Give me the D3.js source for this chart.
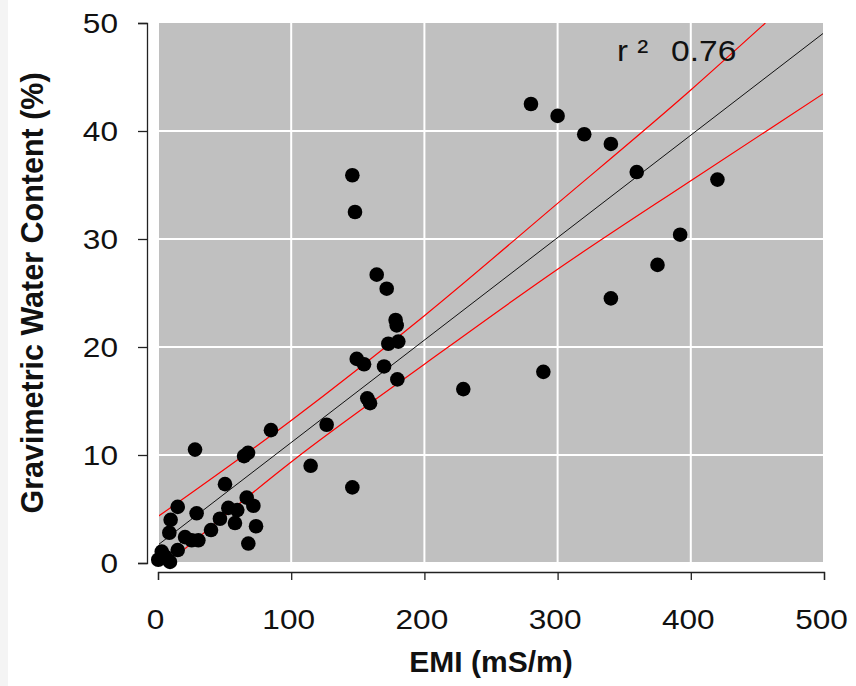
<!DOCTYPE html>
<meta charset="utf-8">
<title>EMI vs Gravimetric Water Content</title>
<style>
    body {
        margin: 0;
        background: #fff;
    }

    text {
        font-family: "Liberation Sans", Arial, sans-serif;
        fill: #111;
    }
</style>
<body>
<script src="https://cdnjs.cloudflare.com/ajax/libs/d3/7.8.5/d3.min.js"></script>
<script>
    // measured points: EMI (mS/m) and gravimetric water content (%)
    var emi = [280, 300, 320, 340, 359.4, 420, 392, 375, 340, 289.3, 229.2,
        145.9, 147.9, 164.2, 171.7, 178.4, 179.2, 172.9, 180.4, 149.2, 154.7,
        169.7, 179.7, 157.1, 159.2, 126.6, 84.8, 114.6, 145.9, 27.8, 64.6, 67.6,
        50.3, 14.8, 29, 9.5, 8.5, 66.6, 71.6, 52.8, 59.5, 46.5, 57.8, 39.8, 73.6,
        67.8, 20.3, 25.3, 30.3, 14.8, 2.8, 5.3, 9, 0.2];
    var gwc = [42.5, 41.4, 39.7, 38.8, 36.2, 35.5, 30.4, 27.6, 24.5, 17.7, 16.1,
        35.9, 32.5, 26.7, 25.4, 22.5, 22, 20.3, 20.5, 18.9, 18.4,
        18.2, 17, 15.25, 14.8, 12.8, 12.3, 9, 7, 10.5, 9.9, 10.2,
        7.3, 5.2, 4.6, 4, 2.8, 6.05, 5.3, 5.1, 4.9, 4.1, 3.7, 3.05, 3.4,
        1.8, 2.4, 2.1, 2.1, 1.2, 1.05, 0.6, 0.1, 0.3];

    // regression line and red band lines
    var fitX = [0, 500];
    var fitY = [1.67, 49.1];
    var upperX = [0, 100, 200, 300, 400, 456];
    var upperY = [4.3, 13.2, 22.9, 33.3, 43.8, 50];
    var lowerX = [20, 100, 200, 300, 400, 500];
    var lowerY = [1.3, 9.35, 18.4, 27.2, 35.4, 43.5];

    var xTicks = [0, 100, 200, 300, 400, 500];
    var yTicks = [0, 10, 20, 30, 40, 50];
    var r2Label = "0.76";

    var W = 856, H = 686;
    var sx = 1.17; // tick labels look a bit wide in the picture

    var svg = d3.select("body").append("svg")
        .attr("width", W)
        .attr("height", H);

    // thin light strip at the left edge
    svg.append("rect")
        .attr("x", 0).attr("y", 0)
        .attr("width", 8).attr("height", H)
        .attr("fill", "#f4f4f4");

    var x = d3.scaleLinear().domain([0, 500]).range([158, 824]);
    var y = d3.scaleLinear().domain([0, 50]).range([563, 23]);

    svg.append("rect")
        .attr("x", x(0) + 1)
        .attr("y", y(50))
        .attr("width", x(500) - x(0) - 2)
        .attr("height", y(0) - y(50) - 1)
        .attr("fill", "#c0c0c0");

    svg.append("clipPath").attr("id", "panel")
        .append("rect")
        .attr("x", x(0) + 1)
        .attr("y", y(50))
        .attr("width", x(500) - x(0) - 2)
        .attr("height", y(0) - y(50) - 1);

    // white grid
    svg.selectAll("line.vgrid")
        .data(xTicks.slice(1, -1))
        .enter().append("line")
        .attr("class", "vgrid")
        .attr("x1", function (d) { return x(d); })
        .attr("x2", function (d) { return x(d); })
        .attr("y1", y(50)).attr("y2", y(0))
        .attr("stroke", "#fff").attr("stroke-width", 2);

    svg.selectAll("line.hgrid")
        .data(yTicks.slice(1, -1))
        .enter().append("line")
        .attr("class", "hgrid")
        .attr("x1", x(0)).attr("x2", x(500))
        .attr("y1", function (d) { return y(d); })
        .attr("y2", function (d) { return y(d); })
        .attr("stroke", "#fff").attr("stroke-width", 2);

    var line = d3.line()
        .curve(d3.curveMonotoneX)
        .x(function (d) { return x(d[0]); })
        .y(function (d) { return y(d[1]); });

    var g = svg.append("g").attr("clip-path", "url(#panel)");

    g.append("path")
        .attr("d", line(d3.zip(upperX, upperY)))
        .attr("fill", "none").attr("stroke", "#ff0000").attr("stroke-width", 1.2);
    g.append("path")
        .attr("d", line(d3.zip(lowerX, lowerY)))
        .attr("fill", "none").attr("stroke", "#ff0000").attr("stroke-width", 1.2);
    g.append("path")
        .attr("d", line(d3.zip(fitX, fitY)))
        .attr("fill", "none").attr("stroke", "#111").attr("stroke-width", 1);

    svg.selectAll("circle")
        .data(d3.zip(emi, gwc))
        .enter().append("circle")
        .attr("cx", function (d) { return x(d[0]); })
        .attr("cy", function (d) { return y(d[1]); })
        .attr("r", 7.3)
        .attr("fill", "#000");

    // axes, R style
    var xAxis = svg.append("g")
        .attr("transform", "translate(0,572)")
        .call(d3.axisBottom(x).tickValues(xTicks).tickSize(8).tickSizeOuter(8));
    var yAxis = svg.append("g")
        .attr("transform", "translate(147,0)")
        .call(d3.axisLeft(y).tickValues(yTicks).tickSize(9).tickSizeOuter(9));

    [xAxis, yAxis].forEach(function (a) {
        a.selectAll("path, line").attr("stroke", "#222").attr("stroke-width", 1.3);
        a.selectAll("text")
            .attr("font-family", "Liberation Sans, Arial, sans-serif")
            .attr("font-size", 27)
            .attr("fill", "#0a0a0a");
    });

    xAxis.selectAll("text")
        .attr("x", -3 / sx)
        .attr("y", 57)
        .attr("dy", 0)
        .attr("transform", "scale(" + sx + ",1)");

    yAxis.selectAll("text")
        .attr("x", -29 / sx)
        .attr("dy", "0.35em")
        .attr("transform", "scale(" + sx + ",1)");

    svg.append("text")
        .attr("x", 491)
        .attr("y", 672)
        .attr("text-anchor", "middle")
        .attr("font-size", 30)
        .attr("font-weight", "bold")
        .text("EMI (mS/m)");

    svg.append("text")
        .attr("transform", "translate(43,293) rotate(-90)")
        .attr("text-anchor", "middle")
        .attr("font-size", 30.5)
        .attr("font-weight", "bold")
        .text("Gravimetric Water Content (%)");

    svg.append("text")
        .attr("transform", "translate(617,61) scale(1.1,1)")
        .attr("font-size", 30)
        .text("r \u00b2");

    svg.append("text")
        .attr("transform", "translate(671,61) scale(1.12,1)")
        .attr("font-size", 30)
        .text(r2Label);
</script>
